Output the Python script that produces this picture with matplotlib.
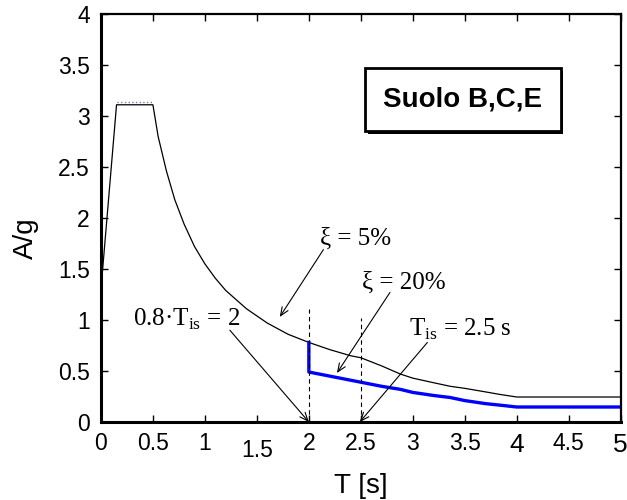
import numpy as np
import matplotlib.pyplot as plt
import matplotlib.patheffects as pe

plt.rcParams['font.family'] = ['Liberation Sans', 'DejaVu Sans']
plt.rcParams['mathtext.fontset'] = 'custom'
plt.rcParams['mathtext.rm'] = 'Liberation Serif'

# spectrum xi = 5%
T5 = [0.0, 0.15, 0.5, 0.55, 0.63, 0.71, 0.8, 0.9, 1.0, 1.1, 1.2, 1.4, 1.6, 1.8,
      2.0, 2.2, 2.4, 2.5, 2.6, 2.7, 2.88, 3.0, 3.2, 3.36, 3.5, 3.7, 3.84, 4.0, 5.0]
A5 = [1.3, 3.11, 3.11, 2.8, 2.46, 2.18, 1.94, 1.72, 1.55, 1.41, 1.29, 1.11, 0.97, 0.86,
      0.78, 0.71, 0.65, 0.63, 0.59, 0.55, 0.47, 0.43, 0.385, 0.35, 0.33, 0.295, 0.27, 0.245, 0.245]

# spectrum xi = 20%, isolated structure (from 0.8*Tis)
T20 = [2.0, 2.0, 2.2, 2.5, 2.7, 2.88, 3.0, 3.2, 3.36, 3.5, 3.7, 3.84, 4.0, 5.0]
A20 = [0.78, 0.49, 0.45, 0.39, 0.35, 0.32, 0.29, 0.26, 0.24, 0.21, 0.18, 0.165, 0.147, 0.147]

# dotted plateau trace
Tpl = [0.15, 0.5]
Apl = [3.14, 3.14]

xticks = [0, 0.5, 1, 1.5, 2, 2.5, 3, 3.5, 4, 4.5, 5]
xlabels = ['0', '0.5', '1', '1.5', '2', '2.5', '3', '3.5', '4', '4.5', '5']
yticks = [0, 0.5, 1, 1.5, 2, 2.5, 3, 3.5, 4]
ylabels = ['0', '0.5', '1', '1.5', '2', '2.5', '3', '3.5', '4']

fig = plt.figure(figsize=(6.27, 5), dpi=100)
ax = fig.add_axes([0.161, 0.156, 0.829, 0.816])

ax.plot(T5, A5, color='k', lw=0.9)
ax.plot(Tpl, Apl, color='#7a7ab8', lw=1.0, ls=':')
ax.plot(T20, A20, color='#0000ff', lw=2.4)

# dashed markers at 0.8*Tis and Tis
ax.plot([2, 2], [0, 1.11], color='k', lw=0.8, ls=(0, (4, 3)))
ax.plot([2.5, 2.5], [0, 1.02], color='k', lw=0.8, ls=(0, (4, 3)))

arr = dict(arrowstyle='->,head_length=0.6,head_width=0.25', lw=0.8, color='k',
           shrinkA=0, shrinkB=0)
ax.annotate('', xy=(1.72, 1.03), xytext=(2.14, 1.69), arrowprops=arr)
ax.annotate('', xy=(2.27, 0.48), xytext=(2.78, 1.27), arrowprops=arr)
ax.annotate('', xy=(2.49, 0.0), xytext=(3.14, 0.78), arrowprops=arr)
ax.annotate('', xy=(2.0, 0.0), xytext=(1.24, 0.90), arrowprops=arr)

serif = dict(family='Liberation Serif', fontsize=18, ha='center', va='center')
ax.text(2.45, 1.80, 'ξ = 5%', **serif)
ax.text(2.91, 1.37, 'ξ = 20%', **serif)
ax.text(3.46, 0.91, r'T$_{\mathrm{is}}$ = 2.5 s', **serif)
ax.text(0.82, 1.01, r'0.8·T$_{\mathrm{is}}$ = 2', **serif)

box = ax.text(3.48, 3.16, 'Suolo B,C,E', fontsize=20, fontweight='bold',
              ha='center', va='center',
              bbox=dict(boxstyle='square,pad=0.66', fc='white', ec='black', lw=2))
box.get_bbox_patch().set_path_effects([
    pe.SimplePatchShadow(offset=(2, -2), shadow_rgbFace='black', alpha=1.0),
    pe.Normal()])

ax.set_xlim(0, 5)
ax.set_ylim(0, 4)
ax.set_xticks(xticks)
ax.set_xticklabels(xlabels)
ax.set_yticks(yticks)
ax.set_yticklabels(ylabels)
ax.tick_params(direction='in', length=5, width=1, top=True, right=True,
               labelsize=16.5)
ax.tick_params(axis='x', pad=7)
ax.tick_params(axis='y', pad=8)

# the original has a few uneven tick labels
xt = ax.xaxis.get_major_ticks()
xt[3].set_pad(12)
for i in (8, 10):
    xt[i].label1.set_fontsize(19)
    xt[i].set_pad(8)

for s in ax.spines.values():
    s.set_linewidth(1.6)
ax.spines['left'].set_linewidth(2.2)
ax.spines['bottom'].set_linewidth(2.2)

ax.set_xlabel('T [s]', fontsize=20, labelpad=8)
ax.set_ylabel('A/g', fontsize=20)
ax.yaxis.set_label_coords(-0.12, 0.45)

fig.savefig('out.png', dpi=100)
